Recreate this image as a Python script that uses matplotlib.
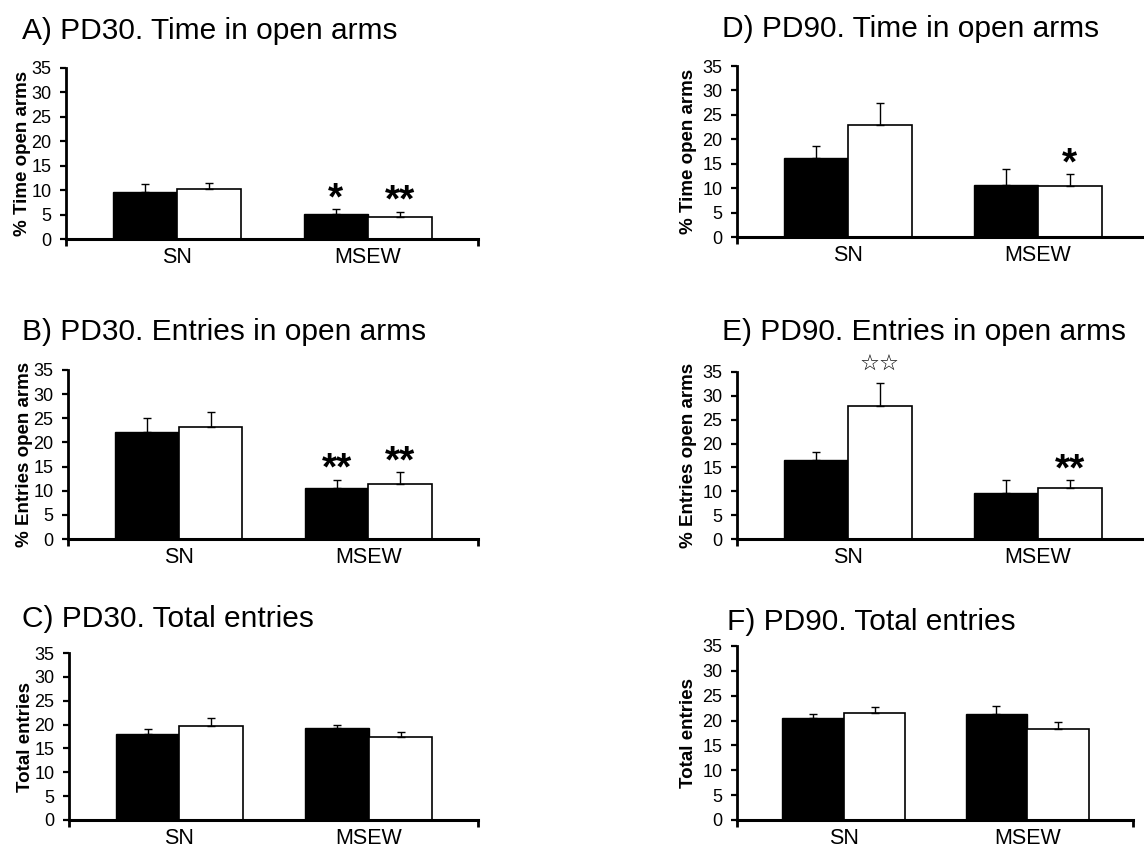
import numpy as np
import matplotlib.pyplot as plt

plt.rcParams['font.family'] = ['Liberation Sans', 'DejaVu Sans']

W, H = 1144, 848
groups = ['SN', 'MSEW']

# A) PD30. Time in open arms
a_black = [9.6, 5.2]
a_black_err = [1.6, 0.9]
a_white = [10.2, 4.6]
a_white_err = [1.2, 1.0]
a_black_marks = ['', '*']
a_white_marks = ['', '**']

# B) PD30. Entries in open arms
b_black = [22.2, 10.5]
b_black_err = [2.8, 1.8]
b_white = [23.2, 11.3]
b_white_err = [3.1, 2.5]
b_black_marks = ['', '**']
b_white_marks = ['', '**']

# C) PD30. Total entries
c_black = [18.0, 19.2]
c_black_err = [1.0, 0.8]
c_white = [19.8, 17.4]
c_white_err = [1.5, 1.0]
c_black_marks = ['', '']
c_white_marks = ['', '']

# D) PD90. Time in open arms
d_black = [16.1, 10.6]
d_black_err = [2.5, 3.3]
d_white = [22.9, 10.4]
d_white_err = [4.6, 2.4]
d_black_marks = ['', '']
d_white_marks = ['', '*']

# E) PD90. Entries in open arms
e_black = [16.6, 9.6]
e_black_err = [1.6, 2.7]
e_white = [27.8, 10.6]
e_white_err = [4.8, 1.7]
e_black_marks = ['', '']
e_white_marks = ['\u2606\u2606', '**']

# F) PD90. Total entries
f_black = [20.6, 21.3]
f_black_err = [0.8, 1.6]
f_white = [21.6, 18.4]
f_white_err = [1.2, 1.3]
f_black_marks = ['', '']
f_white_marks = ['', '']

fig = plt.figure(figsize=(W / 100, H / 100), dpi=100)

BAR_W = 0.336
X_LEFT = -0.583


def draw_panel(px, title, title_xy, ylabel, black, black_err, white, white_err,
               black_marks, white_marks, step=None, labelpad=0):
    # px = (left, top, right, bottom) in pixels
    l, t, r, b = px
    ax = fig.add_axes([l / W, 1 - b / H, (r - l) / W, (b - t) / H])
    if step is None:
        step = (r - l) / 2.16
    x = np.arange(len(groups))
    xb = x - BAR_W / 2
    xw = x + BAR_W / 2

    ax.bar(xb, black, BAR_W, color='black', edgecolor='black', linewidth=1, zorder=2)
    ax.bar(xw, white, BAR_W, color='white', edgecolor='black', linewidth=1.2, zorder=2)
    ax.errorbar(xb, black, yerr=[np.zeros(len(black)), black_err], fmt='none',
                ecolor='black', elinewidth=1, capsize=3, capthick=1, zorder=3)
    ax.errorbar(xw, white, yerr=[np.zeros(len(white)), white_err], fmt='none',
                ecolor='black', elinewidth=1, capsize=3, capthick=1, zorder=3)

    # significance marks above the error bars
    for xs, vals, errs, marks in [(xb, black, black_err, black_marks),
                                  (xw, white, white_err, white_marks)]:
        for xi, v, e, m in zip(xs, vals, errs, marks):
            if not m:
                continue
            if '*' in m:
                ax.annotate(m, (xi, v + e), xytext=(0, 0), textcoords='offset points',
                            ha='center', va='baseline', fontsize=28, fontweight='bold',
                            annotation_clip=False)
            else:
                ax.annotate(m, (xi, v + e), xytext=(0, 9), textcoords='offset points',
                            ha='center', va='baseline', fontsize=16, color='black',
                            family=['DejaVu Sans'], annotation_clip=False)

    ax.set_ylim(0, 35)
    ax.set_yticks(range(0, 36, 5))
    xr = X_LEFT + (r - l) / step
    ax.set_xlim(X_LEFT, xr)
    ax.set_xticks(x)
    ax.set_xticklabels(groups)
    ax.set_xticks([X_LEFT, xr], minor=True)

    for s in ['top', 'right']:
        ax.spines[s].set_visible(False)
    ax.spines['left'].set_linewidth(2)
    ax.spines['bottom'].set_linewidth(2.2)

    ax.tick_params(axis='y', length=4, width=1.6, labelsize=13, pad=6.5)
    ax.tick_params(axis='x', which='major', length=0, labelsize=15.5, pad=6)
    ax.tick_params(axis='x', which='minor', length=5, width=2)
    ax.set_ylabel(ylabel, fontsize=13.5, fontweight='bold', labelpad=labelpad)

    fig.text(title_xy[0] / W, 1 - title_xy[1] / H, title, fontsize=21.5,
             ha='left', va='baseline')
    return ax


draw_panel((66, 68, 478, 239), 'A) PD30. Time in open arms', (22, 39),
           '% Time open arms', a_black, a_black_err, a_white, a_white_err,
           a_black_marks, a_white_marks)
draw_panel((68, 370, 478, 539), 'B) PD30. Entries in open arms', (22, 340),
           '% Entries open arms', b_black, b_black_err, b_white, b_white_err,
           b_black_marks, b_white_marks)
draw_panel((69, 653, 478, 820), 'C) PD30. Total entries', (22, 627),
           'Total entries', c_black, c_black_err, c_white, c_white_err,
           c_black_marks, c_white_marks)
draw_panel((737, 66, 1160, 237), 'D) PD90. Time in open arms', (722, 37),
           '% Time open arms', d_black, d_black_err, d_white, d_white_err,
           d_black_marks, d_white_marks, step=190, labelpad=4)
draw_panel((737, 372, 1160, 539), 'E) PD90. Entries in open arms', (722, 340),
           '% Entries open arms', e_black, e_black_err, e_white, e_white_err,
           e_black_marks, e_white_marks, step=190, labelpad=4)
draw_panel((737, 646, 1133, 820), 'F) PD90. Total entries', (727, 630),
           'Total entries', f_black, f_black_err, f_white, f_white_err,
           f_black_marks, f_white_marks, labelpad=4)

plt.savefig('out.png', dpi=100)
